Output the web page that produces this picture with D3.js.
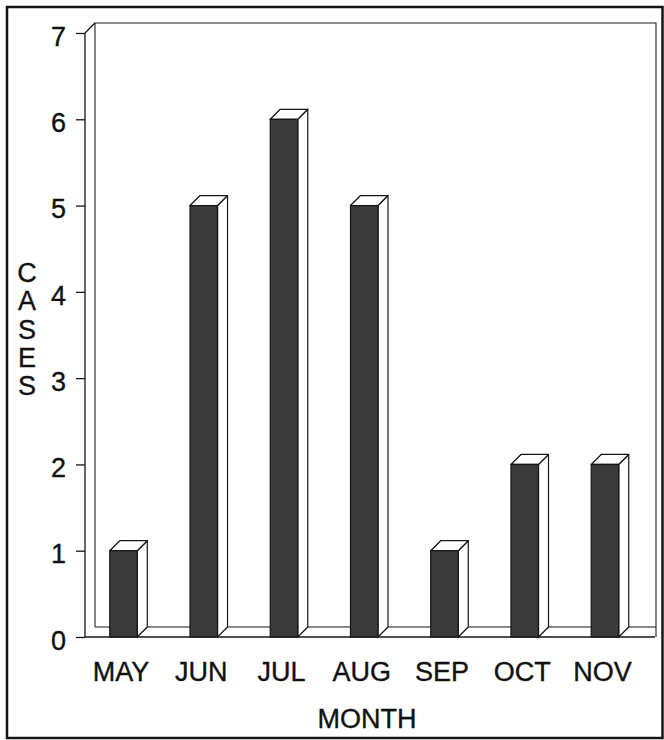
<!DOCTYPE html>
<html>
<head>
<meta charset="utf-8">
<script src="https://cdn.jsdelivr.net/npm/d3@7"></script>
<style>
html,body{margin:0;padding:0;background:#fff;}
svg{display:block;}
text{font-family:"Liberation Sans",Arial,Helvetica,sans-serif;fill:#111;stroke:#111;stroke-width:0.35px;}
</style>
</head>
<body>
<svg id="chart" width="664" height="740"></svg>
<script>
const months = ["MAY","JUN","JUL","AUG","SEP","OCT","NOV"];
const cases = [1,5,6,5,1,2,2];
const yTicks = [0,1,2,3,4,5,6,7];
const yTitle = "CASES";
const xTitle = "MONTH";

const svg = d3.select("#chart");
const dx = 10, dy = -10;           // 3D depth offset
const axisX = 85, wallRight = 656;

const y = d3.scaleLinear().domain([0,7]).range([637,33]);
const x = d3.scaleBand().domain(months).range([83.4,645.1])
  .paddingInner(0.657).paddingOuter(0.3285);

const ink = "#151515";

// outer frame
svg.append("rect").attr("x",7).attr("y",7).attr("width",655.5).attr("height",731)
  .attr("fill","none").attr("stroke",ink).attr("stroke-width",2.5);

const g = svg.append("g");
const y0 = y(0), yTop = y(7);

// back wall / floor outline
g.append("path")
  .attr("d", `M${axisX+dx},${y0+dy} L${axisX+dx},${yTop+dy} L${wallRight},${yTop+dy} L${wallRight},${y0}`)
  .attr("fill","none").attr("stroke","#222").attr("stroke-width",1.1);
g.append("line").attr("x1",axisX+dx).attr("x2",wallRight).attr("y1",y0+dy).attr("y2",y0+dy)
  .attr("stroke",ink).attr("stroke-width",1.2);
// front axis and diagonal
g.append("line").attr("x1",axisX).attr("x2",axisX).attr("y1",y0).attr("y2",yTop)
  .attr("stroke",ink).attr("stroke-width",1.3);
g.append("line").attr("x1",axisX).attr("y1",yTop).attr("x2",axisX+dx).attr("y2",yTop+dy)
  .attr("stroke",ink).attr("stroke-width",1.3);
// front baseline
g.append("line").attr("x1",axisX).attr("x2",wallRight-1).attr("y1",y0).attr("y2",y0)
  .attr("stroke",ink).attr("stroke-width",1.3);

// y axis ticks + labels
const yAxis = d3.axisLeft(y).tickValues(yTicks).tickSize(9).tickPadding(10).tickFormat(d3.format("d"));
const ya = svg.append("g").attr("transform",`translate(${axisX},0)`).call(yAxis);
ya.select(".domain").remove();
ya.selectAll(".tick line").attr("stroke",ink).attr("stroke-width",1.3);
ya.selectAll(".tick text").attr("font-size",27).attr("dy","0.45em")
  .style("font-family",'"Liberation Sans",Arial,sans-serif').attr("fill","#111");

// bars
const bars = g.selectAll(".bar").data(months.map((m,i)=>({m, v:cases[i]}))).join("g").attr("class","bar");
bars.each(function(d){
  const b = d3.select(this);
  const x0 = x(d.m), x1 = x(d.m)+x.bandwidth(), t = y(d.v);
  // side face
  b.append("path").attr("d",`M${x1},${t} L${x1+dx},${t+dy} L${x1+dx},${y0+dy} L${x1},${y0} Z`)
    .attr("fill","#fff").attr("stroke",ink).attr("stroke-width",1.2).attr("stroke-linejoin","round");
  // top face
  b.append("path").attr("d",`M${x0},${t} L${x0+dx},${t+dy} L${x1+dx},${t+dy} L${x1},${t} Z`)
    .attr("fill","#fff").attr("stroke",ink).attr("stroke-width",1.3).attr("stroke-linejoin","round");
  // front face
  b.append("rect").attr("x",x0).attr("y",t).attr("width",x.bandwidth()).attr("height",y0-t)
    .attr("fill","#3a3a3a").attr("stroke",ink).attr("stroke-width",1.2);
});

// x labels
svg.append("g").selectAll("text").data(months).join("text")
  .attr("x",d=>x(d)+x.bandwidth()/2-2.5).attr("y",681)
  .attr("text-anchor","middle").attr("font-size",27).text(d=>d);

// titles
svg.append("text").attr("x",367).attr("y",728).attr("text-anchor","middle")
  .attr("font-size",27).text(xTitle);
svg.append("g").selectAll("text").data(yTitle.split("")).join("text")
  .attr("x",27).attr("y",(d,i)=>282+i*28.3).attr("text-anchor","middle")
  .attr("font-size",27).text(d=>d);
</script>
</body>
</html>
